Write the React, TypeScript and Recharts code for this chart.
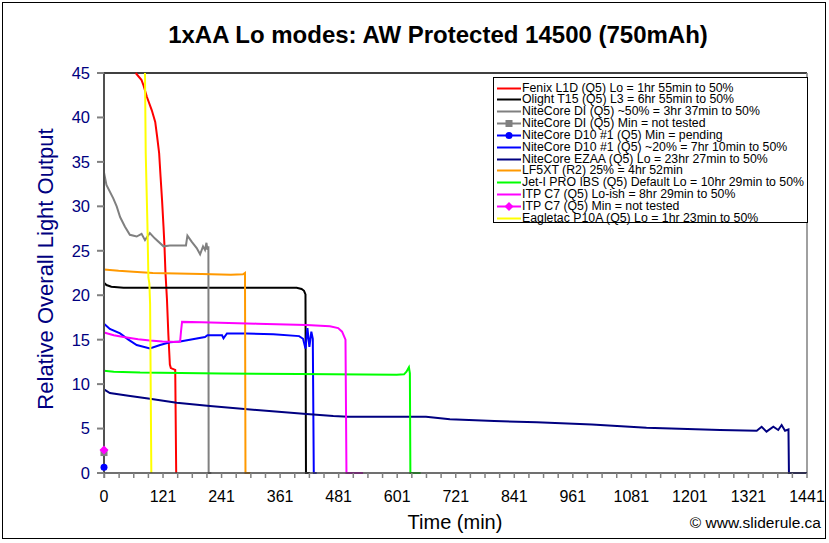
import React from 'react';
import { LineChart, Line, XAxis, YAxis, ReferenceLine } from 'recharts';

const FONT = '"Liberation Sans", Arial, Helvetica, sans-serif';

// ---- series data: [time (min), relative output] ----
const fenixL1D: number[][] = [
  [65, 45], [77, 44.2], [81, 43.6], [88, 42.3], [98, 40.8], [105, 39.5], [109, 37.8], [113, 36],
  [116, 33.3], [119, 30.7], [122, 27.7], [124, 25.5], [126, 22.5], [129, 19.6], [132, 15.5],
  [135, 12.2], [137, 11.8], [146, 11.6], [148, 0],
];
const olightT15: number[][] = [
  [0, 21.4], [5, 21.15], [15, 20.96], [40, 20.85], [395, 20.85], [405, 20.7], [410, 20.5],
  [413, 20.1], [414, 0], [422, 0],
];
const niteDI50: number[][] = [
  [0, 33.8], [5, 32.4], [19, 30.9], [26, 30], [33, 28.8], [43, 27.7], [53, 26.8], [67, 26.6],
  [77, 26.9], [84, 26.2], [94, 27], [104, 26.4], [122, 25.5], [135, 25.6], [168, 25.6],
  [171, 26.7], [180, 26], [190, 25.3], [197, 24.6], [203, 25.5], [207, 25.1], [210, 25.9],
  [212, 25.1], [214, 25.5], [214.5, 0], [220, 0],
];
const niteDIMin: number[][] = [[0, 2.3]];
const niteD10Min: number[][] = [[0, 0.65]];
const niteD10: number[][] = [
  [0, 16.8], [12, 16.2], [33, 15.7], [50, 15.0], [67, 14.4], [94, 14.0], [115, 14.4], [135, 14.7],
  [156, 14.8], [176, 15.0], [207, 15.3], [212, 15.5], [242, 15.5], [245, 15.15], [252, 15.7],
  [292, 15.7], [347, 15.6], [400, 15.4], [408, 15.1], [413, 14.0], [417, 16.3], [421, 14.2],
  [425, 15.9], [428, 15.1], [430, 0], [436, 0],
];
const niteEZAA: number[][] = [
  [0, 9.4], [12, 9.0], [50, 8.7], [94, 8.36], [149, 7.9], [217, 7.54], [313, 7.09], [415, 6.64],
  [470, 6.4], [500, 6.34], [660, 6.34], [709, 6.04], [800, 5.85], [887, 5.7], [1000, 5.45],
  [1112, 5.1], [1263, 4.84], [1338, 4.76], [1348, 5.2], [1358, 4.65], [1372, 5.2], [1382, 4.84],
  [1389, 5.4], [1396, 4.76], [1403, 4.9], [1404, 0], [1441, 0],
];
const lf5xt: number[][] = [
  [0, 22.9], [30, 22.75], [60, 22.65], [100, 22.5], [150, 22.45], [200, 22.4], [260, 22.3],
  [285, 22.35], [289, 22.5], [290, 0], [300, 0],
];
const jetIPro: number[][] = [
  [0, 11.5], [20, 11.4], [74, 11.3], [240, 11.2], [400, 11.15], [600, 11.05], [615, 11.1],
  [620, 11.4], [625, 11.9], [627, 11.2], [628, 0], [649, 0],
];
const itpC7Lo: number[][] = [
  [0, 15.8], [20, 15.5], [40, 15.3], [70, 15.05], [94, 14.9], [120, 14.8], [150, 14.75],
  [156, 14.8], [158, 16.0], [160, 17.0], [200, 16.95], [313, 16.8], [415, 16.65], [463, 16.5],
  [480, 16.3], [488, 15.9], [495, 15.0], [497, 0], [531, 0],
];
const itpC7Min: number[][] = [[0, 2.6]];
const eagletacP10A: number[][] = [
  [84, 45], [85.5, 36], [89, 28], [91, 22], [93, 21.3], [94.5, 19], [97, 0],
];

// ---- axes ----
const yTicks = [0, 5, 10, 15, 20, 25, 30, 35, 40, 45];
const xTickLabels = [0, 121, 241, 361, 481, 601, 721, 841, 961, 1081, 1201, 1321, 1441];
const xMinorTicks = Array.from({ length: 49 }, (_, i) => 1 + i * 30);
const xTicks = [0, ...xMinorTicks];

type SeriesDef = { name: string; color: string; data: number[][]; marker?: 'square' | 'circle' | 'diamond' };

const series: SeriesDef[] = [
  { name: 'Fenix L1D (Q5) Lo = 1hr 55min to 50%', color: '#FF0000', data: fenixL1D },
  { name: 'Olight T15 (Q5) L3 = 6hr 55min to 50%', color: '#000000', data: olightT15 },
  { name: 'NiteCore DI (Q5) ~50% = 3hr 37min to 50%', color: '#808080', data: niteDI50 },
  { name: 'NiteCore DI (Q5) Min = not tested', color: '#808080', data: niteDIMin, marker: 'square' },
  { name: 'NiteCore D10 #1 (Q5) Min = pending', color: '#0000FF', data: niteD10Min, marker: 'circle' },
  { name: 'NiteCore D10 #1 (Q5) ~20% = 7hr 10min to 50%', color: '#0000FF', data: niteD10 },
  { name: 'NiteCore EZAA (Q5) Lo = 23hr 27min to 50%', color: '#000080', data: niteEZAA },
  { name: 'LF5XT (R2) 25% = 4hr 52min', color: '#FF9900', data: lf5xt },
  { name: 'Jet-I PRO IBS (Q5) Default Lo = 10hr 29min to 50%', color: '#00FF00', data: jetIPro },
  { name: 'ITP C7 (Q5) Lo-ish = 8hr 29min to 50%', color: '#FF00FF', data: itpC7Lo },
  { name: 'ITP C7 (Q5) Min = not tested', color: '#FF00FF', data: itpC7Min, marker: 'diamond' },
  { name: 'Eagletac P10A (Q5) Lo = 1hr 23min to 50%', color: '#FFFF00', data: eagletacP10A },
];

const toRows = (d: number[][]) => d.map(([t, v]) => ({ t, v }));

function markerShape(kind: string, cx: number, cy: number, color: string, key?: string) {
  if (kind === 'square') return <rect key={key} x={cx - 3.5} y={cy - 3.5} width={7} height={7} fill={color} />;
  if (kind === 'circle') return <circle key={key} cx={cx} cy={cy} r={3.5} fill={color} />;
  return <polygon key={key} points={`${cx},${cy - 4.5} ${cx + 4.5},${cy} ${cx},${cy + 4.5} ${cx - 4.5},${cy}`} fill={color} />;
}

const XTick = (props: any) => {
  const { x, y, payload } = props;
  if (!xTickLabels.includes(payload.value)) return <g />;
  return (
    <text x={x} y={y + 24} textAnchor="middle" fontSize={16} fill="#000" fontFamily={FONT}>
      {payload.value}
    </text>
  );
};

function LegendBox() {
  return (
    <div
      style={{
        position: 'absolute', left: 493, top: 77, width: 315, height: 146,
        border: '1px solid #000', background: '#fff', boxSizing: 'border-box',
        fontFamily: FONT, fontSize: 12.3, color: '#000',
      }}
    >
      {series.map((s, i) => (
        <div key={s.name} style={{ position: 'absolute', left: 0, top: 4.5 + i * 11.85, width: 312, height: 11, lineHeight: '11px', whiteSpace: 'nowrap' }}>
          <svg width={26} height={11} style={{ position: 'absolute', left: 2, top: 0 }}>
            <line x1={1} x2={25} y1={5.5} y2={5.5} stroke={s.color} strokeWidth={2} />
            {s.marker ? markerShape(s.marker, 13, 5.5, s.color) : null}
          </svg>
          <span style={{ position: 'absolute', left: 28, top: 0 }}>{s.name}</span>
        </div>
      ))}
    </div>
  );
}

export default function App() {
  return (
    <div style={{ position: 'absolute', left: 0, top: 0, width: 829, height: 543, background: '#fff', fontFamily: FONT }}>
      <div style={{ position: 'absolute', left: 2, top: 2, width: 824, height: 537, border: '1px solid #000', boxSizing: 'border-box' }} />
      <LineChart
        width={829}
        height={543}
        margin={{ top: 73, right: 22, left: 44, bottom: 40 }}
        style={{ position: 'absolute', left: 0, top: 0 }}
      >
        <XAxis
          type="number"
          dataKey="t"
          domain={[0, 1441]}
          ticks={xTicks}
          interval={0}
          height={30}
          tickSize={5}
          tickMargin={0}
          stroke="#404040"
          strokeWidth={1.5}
          tickLine={{ stroke: '#808080' }}
          tick={<XTick />}
        />
        <YAxis
          type="number"
          dataKey="v"
          domain={[0, 45]}
          ticks={yTicks}
          interval={0}
          width={60}
          tickSize={7}
          tickMargin={7}
          stroke="#505050"
          strokeWidth={2}
          tickLine={{ stroke: '#808080' }}
          tick={{ fill: '#000080', fontSize: 16.5, fontFamily: FONT }}
        />
        <ReferenceLine y={45} stroke="#000" strokeWidth={1.5} />
        <ReferenceLine x={1441} stroke="#808080" strokeWidth={1.5} />
        {series.map((s) => (
          <Line
            key={s.name}
            data={toRows(s.data)}
            dataKey="v"
            type="linear"
            stroke={s.color}
            strokeWidth={2}
            isAnimationActive={false}
            activeDot={false}
            dot={
              s.marker
                ? (p: any) => markerShape(s.marker as string, p.cx, p.cy, s.color, `${s.name}-${p.index}`)
                : false
            }
          />
        ))}
      </LineChart>
      <div style={{ position: 'absolute', left: 0, width: 876, top: 21, textAlign: 'center', fontWeight: 'bold', fontSize: 24, color: '#000' }}>
        1xAA Lo modes: AW Protected 14500 (750mAh)
      </div>
      <div
        style={{
          position: 'absolute', left: 46, top: 269, transform: 'translate(-50%, -50%) rotate(-90deg)',
          whiteSpace: 'nowrap', fontSize: 22, color: '#000080',
        }}
      >
        Relative Overall Light Output
      </div>
      <div style={{ position: 'absolute', left: 355, width: 200, top: 511, textAlign: 'center', fontSize: 20, color: '#000' }}>
        Time (min)
      </div>
      <div style={{ position: 'absolute', right: 8, top: 514, fontSize: 15.5, color: '#000' }}>
        © www.sliderule.ca
      </div>
      <LegendBox />
    </div>
  );
}
